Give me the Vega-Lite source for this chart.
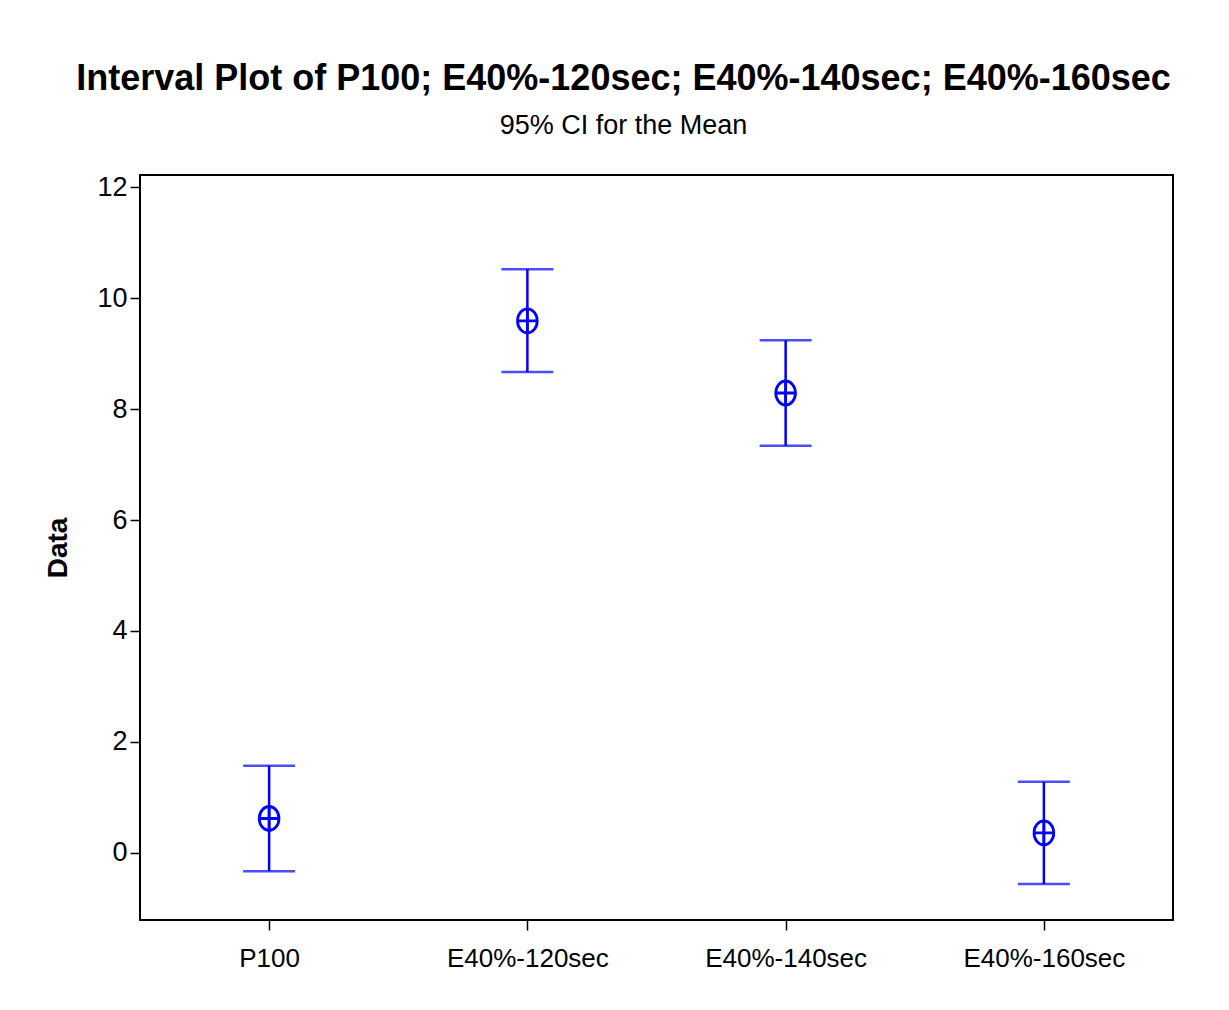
{
  "$schema": "https://vega.github.io/schema/vega-lite/v6.json",
  "width": 1033,
  "height": 745,
  "autosize": "none",
  "padding": {"left": 140, "top": 175, "right": 56, "bottom": 90},
  "background": "white",
  "title": {
    "text": "Interval Plot of P100; E40%-120sec; E40%-140sec; E40%-160sec",
    "subtitle": "95% CI for the Mean",
    "font": "Liberation Sans",
    "fontSize": 36,
    "fontWeight": "bold",
    "subtitleFont": "Liberation Sans",
    "subtitleFontSize": 27,
    "subtitleColor": "black",
    "color": "black",
    "anchor": "middle",
    "dx": -33,
    "offset": 33,
    "subtitlePadding": 15
  },
  "data": {
    "values": [
      {"group": "P100", "lower": -0.33, "mean": 0.62, "upper": 1.57},
      {"group": "E40%-120sec", "lower": 8.67, "mean": 9.59, "upper": 10.52},
      {"group": "E40%-140sec", "lower": 7.34, "mean": 8.29, "upper": 9.24},
      {"group": "E40%-160sec", "lower": -0.56, "mean": 0.36, "upper": 1.28}
    ]
  },
  "encoding": {
    "x": {
      "field": "group",
      "type": "nominal",
      "sort": null,
      "scale": {"type": "point", "padding": 0.5},
      "axis": {
        "title": null,
        "labelAngle": 0,
        "labelFont": "Liberation Sans",
        "labelFontSize": 26,
        "labelColor": "black",
        "labelPadding": 15,
        "tickSize": 10,
        "tickColor": "black",
        "tickWidth": 1.5,
        "domain": false,
        "grid": false
      }
    }
  },
  "layer": [
    {
      "mark": {"type": "rule", "color": "#0000ff", "strokeWidth": 2.5},
      "encoding": {
        "y": {
          "field": "lower",
          "type": "quantitative",
          "scale": {"domain": [-1.21, 12.22], "nice": false, "zero": false},
          "axis": {
            "title": "Data",
            "titleFont": "Liberation Sans",
            "titleFontSize": 28,
            "titleFontWeight": "bold",
            "titleColor": "black",
            "titlePadding": 24,
            "values": [0, 2, 4, 6, 8, 10, 12],
            "format": "d",
            "labelFont": "Liberation Sans",
            "labelFontSize": 27,
            "labelColor": "black",
            "labelPadding": 3,
            "tickSize": 10,
            "tickColor": "black",
            "tickWidth": 1.5,
            "domain": false,
            "grid": false
          }
        },
        "y2": {"field": "upper"}
      }
    },
    {
      "mark": {"type": "tick", "color": "#0000ff", "thickness": 2.5, "size": 52, "orient": "horizontal"},
      "encoding": {"y": {"field": "upper", "type": "quantitative"}}
    },
    {
      "mark": {"type": "tick", "color": "#0000ff", "thickness": 2.5, "size": 52, "orient": "horizontal"},
      "encoding": {"y": {"field": "lower", "type": "quantitative"}}
    },
    {
      "mark": {
        "type": "point",
        "shape": "M-0.82,0 A0.82,1 0 1,1 0.82,0 A0.82,1 0 1,1 -0.82,0 M-0.82,0 L0.82,0 M0,-1 L0,1",
        "size": 576,
        "filled": false,
        "stroke": "#0000ff",
        "strokeWidth": 2.8,
        "opacity": 1
      },
      "encoding": {"y": {"field": "mean", "type": "quantitative"}}
    }
  ],
  "config": {
    "view": {"stroke": "black", "strokeWidth": 2}
  }
}
